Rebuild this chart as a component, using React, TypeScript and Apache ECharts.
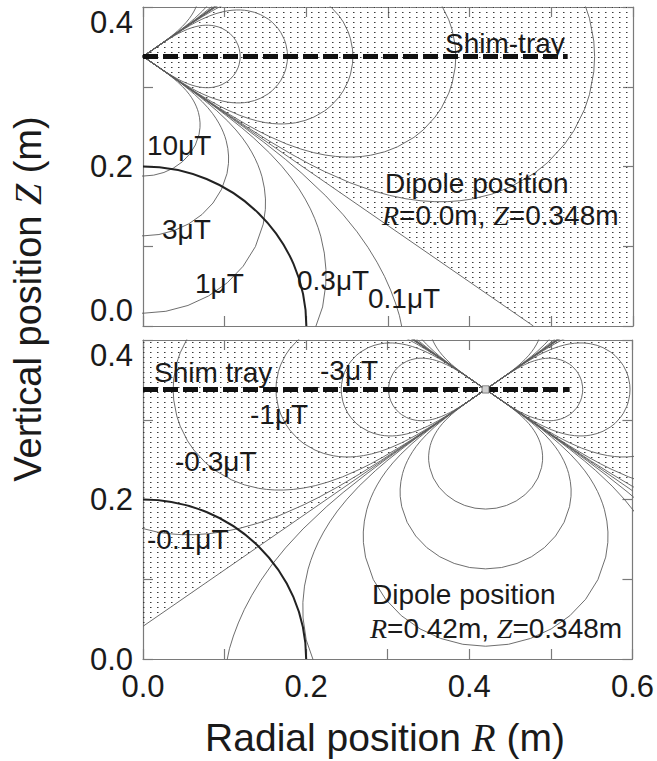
import React, { useEffect, useRef } from 'react';
import * as echarts from 'echarts';

// ---------------- values ----------------
// axes (m)
const R_TICKS = [0, 0.1, 0.2, 0.3, 0.4, 0.5, 0.6];
const Z_TICKS = [0, 0.1, 0.2, 0.3, 0.4];
const R_LABELS = ['0.0', '0.2', '0.4', '0.6'];
const Z_LABELS = ['0.0', '0.2', '0.4'];

// dipole positions as drawn (R, Z) in m
const DIPOLE_TOP = [0.0, 0.338];
const DIPOLE_BOTTOM = [0.42, 0.338];

// contour levels (μT) and their read reach from the dipole (m)
const POS_LEVELS = [0.1, 0.3, 1, 3, 10];
const POS_REACH = [0.694, 0.481, 0.322, 0.225, 0.15]; // along the dipole axis
const NEG_LEVELS = [-0.1, -0.3, -1, -3, -10];
const NEG_REACH = [0.553, 0.383, 0.257, 0.177, 0.119]; // along the horizontal

// normalised shape of one quadrant of a positive (axial) contour, from axis to dipole
const POS_SHAPE = [
  [0, 1], [0.0869, 0.9924], [0.171, 0.9697], [0.2498, 0.9324], [0.3207, 0.8812],
  [0.3809, 0.8169], [0.4275, 0.7405], [0.4572, 0.653], [0.4653, 0.5956], [0.4657, 0.555],
  [0.4616, 0.5127], [0.4525, 0.4685], [0.4455, 0.4455], [0.4368, 0.4219], [0.4261, 0.3973],
  [0.4129, 0.3718], [0.3971, 0.3452], [0.3777, 0.3169], [0.3534, 0.2862], [0.3225, 0.252],
  [0.2805, 0.2114], [0.2517, 0.1862], [0.213, 0.1548], [0.1794, 0.1289], [0.1464, 0.1044], [0, 0],
];
// normalised shape of one quadrant of a negative (side) contour, from equator to dipole
const NEG_SHAPE = [
  [1, 0], [0.9982, 0.0349], [0.9886, 0.0865], [0.9776, 0.1201], [0.9542, 0.1682],
  [0.9338, 0.1985], [0.8964, 0.2402], [0.8664, 0.2649], [0.8134, 0.296], [0.7726, 0.3122],
  [0.7269, 0.3236], [0.7017, 0.3272], [0.675, 0.3292], [0.6463, 0.3293], [0.6155, 0.3273],
  [0.5824, 0.3228], [0.5456, 0.315], [0.5049, 0.3033], [0.4581, 0.2863], [0.402, 0.261],
  [0.3683, 0.2438], [0.328, 0.2212], [0.2761, 0.1897], [0.2331, 0.162], [0.1644, 0.1155], [0, 0],
];

// negative-field (stippled) regions, corners in (R, Z)
const NEG_REGION_TOP = [[0, 0.338], [0.088, 0.4], [0.6, 0.4], [0.6, 0], [0.478, 0]];
const NEG_REGION_BOTTOM_LEFT = [[0.42, 0.338], [0.332, 0.4], [0, 0.4], [0, 0.041]];
const NEG_REGION_BOTTOM_RIGHT = [[0.42, 0.338], [0.508, 0.4], [0.6, 0.4], [0.6, 0.211]];

// shim tray and the 0.2 m circle
const SHIM_TRAY_TOP = [[0, 0.338], [0.52, 0.338]];
const SHIM_TRAY_BOTTOM = [[0, 0.338], [0.523, 0.338]];
const CIRCLE_CENTER = [0, 0];
const CIRCLE_RADIUS = 0.2;

// texts
const TOP_LEVEL_TEXT = ['10μT', '3μT', '1μT', '0.3μT', '0.1μT'];
const BOTTOM_LEVEL_TEXT = ['-3μT', '-1μT', '-0.3μT', '-0.1μT'];

// ---------------- layout / style ----------------
const TOP_LEVEL_POS = [[147, 145], [162, 229], [195, 283], [297, 280], [368, 298]];
const BOTTOM_LEVEL_POS = [[320, 370], [250, 414], [175, 461], [147, 539]];
const SANS = "'Liberation Sans', Arial, sans-serif";
const SERIF = "'Liberation Serif', 'Times New Roman', serif";
const AXIS_COLOR = '#7a7a7a';
const LINE_COLOR = '#5e5e5e';
const TEXT_COLOR = '#1a1a1a';

function posLobe(c: number[], r: number, dir: number) {
  const left = POS_SHAPE.slice().reverse().map(([x, y]) => [c[0] - x * r, c[1] + dir * y * r]);
  const right = POS_SHAPE.slice(1).map(([x, y]) => [c[0] + x * r, c[1] + dir * y * r]);
  return left.concat(right);
}
function negLobe(c: number[], r: number, side: number) {
  const upper = NEG_SHAPE.slice().reverse().map(([x, y]) => [c[0] + side * x * r, c[1] + y * r]);
  const lower = NEG_SHAPE.slice(1).map(([x, y]) => [c[0] + side * x * r, c[1] - y * r]);
  return upper.concat(lower);
}

export default function App() {
  const ref = useRef<HTMLDivElement>(null);
  useEffect(() => {
    const el = ref.current as HTMLDivElement;
    const chart = echarts.init(el, undefined, { renderer: 'svg' });

    const tile = document.createElement('canvas');
    tile.width = 7;
    tile.height = 5;
    const ctx = tile.getContext('2d') as CanvasRenderingContext2D;
    ctx.fillStyle = '#3a3a3a';
    ctx.fillRect(3, 2, 1, 1);
    ctx.fillStyle = '#9a9a9a';
    ctx.fillRect(4, 2, 1, 1);
    const pattern: any = { image: tile, repeat: 'repeat', imageWidth: 7, imageHeight: 5 };

    const rMin = R_TICKS[0], rMax = R_TICKS[R_TICKS.length - 1], rStep = R_TICKS[1] - R_TICKS[0];
    const zMin = Z_TICKS[0], zMax = Z_TICKS[Z_TICKS.length - 1], zStep = Z_TICKS[1] - Z_TICKS[0];

    const axisCommon = {
      type: 'value',
      axisLine: { show: true, onZero: false, lineStyle: { color: AXIS_COLOR, width: 1.2 } },
      axisTick: { show: true, inside: true, length: 10, lineStyle: { color: AXIS_COLOR, width: 1.2 } },
      splitLine: { show: false },
    };
    const xAxis = (gridIndex: number, position: string, labels: boolean) => ({
      ...axisCommon, gridIndex, position, min: rMin, max: rMax, interval: rStep,
      axisLabel: {
        show: labels, fontSize: 31, fontFamily: SANS, color: TEXT_COLOR, margin: 12,
        formatter: (v: number) => (R_LABELS.includes(v.toFixed(1)) ? v.toFixed(1) : ''),
      },
    });
    const yAxis = (gridIndex: number, position: string, labels: boolean, alignMin: boolean) => ({
      ...axisCommon, gridIndex, position, min: zMin, max: zMax, interval: zStep,
      axisLabel: {
        show: labels, fontSize: 31, fontFamily: SANS, color: TEXT_COLOR, margin: 10,
        verticalAlignMaxLabel: 'top',
        verticalAlignMinLabel: alignMin ? 'bottom' : 'middle',
        formatter: (v: number) => (Z_LABELS.includes(v.toFixed(1)) ? v.toFixed(1) : ''),
      },
    });

    const line = (data: number[][], xi: number, yi: number, extra: any = {}) => ({
      type: 'line', xAxisIndex: xi, yAxisIndex: yi, data, showSymbol: false, symbol: 'none',
      silent: true, clip: true, z: 3,
      lineStyle: { color: LINE_COLOR, width: 0.9 },
      ...extra,
    });

    const stipple = (regions: number[][][], xi: number, yi: number) => ({
      type: 'custom', xAxisIndex: xi, yAxisIndex: yi, clip: true, silent: true, z: 1,
      data: regions.map((r) => r[0]),
      renderItem: (params: any, api: any) => ({
        type: 'polygon',
        shape: { points: regions[params.dataIndex].map((p) => api.coord(p)) },
        style: { fill: pattern, stroke: 'none' },
      }),
    });

    const circle = (xi: number, yi: number) => ({
      type: 'custom', xAxisIndex: xi, yAxisIndex: yi, clip: true, silent: true, z: 4,
      data: [CIRCLE_CENTER],
      renderItem: (params: any, api: any) => {
        const c = api.coord(CIRCLE_CENTER);
        const s = api.size([CIRCLE_RADIUS, CIRCLE_RADIUS]);
        return {
          type: 'ellipse',
          shape: { cx: c[0], cy: c[1], rx: s[0], ry: s[1] },
          style: { fill: 'none', stroke: '#222', lineWidth: 2 },
        };
      },
    });

    const series: any[] = [];
    // top panel (axes 0)
    series.push(stipple([NEG_REGION_TOP], 0, 0));
    POS_LEVELS.forEach((_, i) => {
      series.push(line(posLobe(DIPOLE_TOP, POS_REACH[i], -1), 0, 0));
      series.push(line(posLobe(DIPOLE_TOP, POS_REACH[i], 1), 0, 0));
    });
    NEG_LEVELS.forEach((_, i) => {
      series.push(line(negLobe(DIPOLE_TOP, NEG_REACH[i], 1), 0, 0));
    });
    series.push(line([NEG_REGION_TOP[0], NEG_REGION_TOP[1]], 0, 0));
    series.push(line([NEG_REGION_TOP[0], NEG_REGION_TOP[4]], 0, 0));
    series.push(circle(0, 0));
    series.push(line(SHIM_TRAY_TOP, 0, 0, { z: 5, lineStyle: { color: '#111', width: 5, type: [15, 5], cap: 'butt' } }));

    // bottom panel (axes 2)
    series.push(stipple([NEG_REGION_BOTTOM_LEFT, NEG_REGION_BOTTOM_RIGHT], 2, 2));
    POS_LEVELS.forEach((_, i) => {
      series.push(line(posLobe(DIPOLE_BOTTOM, POS_REACH[i], -1), 2, 2));
      series.push(line(posLobe(DIPOLE_BOTTOM, POS_REACH[i], 1), 2, 2));
    });
    NEG_LEVELS.forEach((_, i) => {
      series.push(line(negLobe(DIPOLE_BOTTOM, NEG_REACH[i], 1), 2, 2));
      series.push(line(negLobe(DIPOLE_BOTTOM, NEG_REACH[i], -1), 2, 2));
    });
    [NEG_REGION_BOTTOM_LEFT, NEG_REGION_BOTTOM_RIGHT].forEach((reg) => {
      series.push(line([reg[0], reg[1]], 2, 2));
      series.push(line([reg[0], reg[3]], 2, 2));
    });
    series.push(circle(2, 2));
    series.push(line(SHIM_TRAY_BOTTOM, 2, 2, { z: 5, lineStyle: { color: '#111', width: 5, type: [15, 5], cap: 'butt' } }));
    series.push({
      type: 'scatter', xAxisIndex: 2, yAxisIndex: 2, data: [DIPOLE_BOTTOM], symbol: 'rect', symbolSize: 7,
      silent: true, z: 6, itemStyle: { color: '#fff', borderColor: '#444', borderWidth: 1 },
    });

    const txt = (text: string, x: number, y: number, size = 28, extra: any = {}) => ({
      type: 'text', x, y, silent: true, z: 100,
      style: {
        text, fill: TEXT_COLOR, fontSize: size, fontFamily: SANS, align: 'left', verticalAlign: 'middle',
        rich: {
          n: { fontSize: size, fontFamily: SANS, fill: TEXT_COLOR },
          i: { fontSize: size, fontFamily: SERIF, fontStyle: 'italic', fill: TEXT_COLOR },
        },
        ...extra,
      },
    });

    const graphics: any[] = [];
    TOP_LEVEL_TEXT.forEach((t, i) => graphics.push(txt(t, TOP_LEVEL_POS[i][0], TOP_LEVEL_POS[i][1])));
    BOTTOM_LEVEL_TEXT.forEach((t, i) => graphics.push(txt(t, BOTTOM_LEVEL_POS[i][0], BOTTOM_LEVEL_POS[i][1])));
    graphics.push(txt('Shim-tray', 445, 43));
    graphics.push(txt('Dipole position', 385, 183));
    graphics.push(txt('{i|R}{n|=0.0m, }{i|Z}{n|=0.348m}', 382, 215));
    graphics.push(txt('Shim tray', 154, 372));
    graphics.push(txt('Dipole position', 372, 594));
    graphics.push(txt('{i|R}{n|=0.42m, }{i|Z}{n|=0.348m}', 370, 628));
    graphics.push(txt('{n|Radial position }{i|R}{n| (m)}', 385, 737, 39, { align: 'center' }));
    const yTitle = txt('{n|Vertical position }{i|Z}{n| (m)}', 28, 299, 38, { align: 'center' });
    graphics.push({ ...yTitle, rotation: Math.PI / 2 });

    chart.setOption({
      animation: false,
      backgroundColor: '#fff',
      grid: [
        { left: 143, top: 7, width: 490, height: 319 },
        { left: 143, top: 340, width: 490, height: 319 },
      ],
      xAxis: [xAxis(0, 'bottom', false), xAxis(0, 'top', false), xAxis(1, 'bottom', true), xAxis(1, 'top', false)],
      yAxis: [yAxis(0, 'left', true, true), yAxis(0, 'right', false, true), yAxis(1, 'left', true, false), yAxis(1, 'right', false, false)],
      series,
      graphic: { elements: graphics },
    });
    return () => chart.dispose();
  }, []);
  return (
    <div
      ref={ref}
      style={{ position: 'fixed', left: 0, top: 0, width: 657, height: 761, background: '#fff' }}
    />
  );
}
